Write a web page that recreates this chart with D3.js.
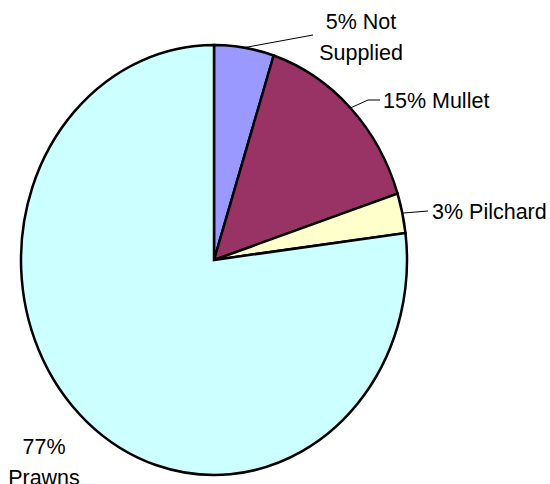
<!DOCTYPE html>
<html>
<head>
<meta charset="utf-8">
<script src="https://cdn.jsdelivr.net/npm/d3@7"></script>
<style>
  html, body { margin: 0; padding: 0; background: #fff; }
  svg text { font-family: "Liberation Sans", Arial, sans-serif; font-size: 21.5px; fill: #000; }
</style>
</head>
<body>
<svg id="chart"></svg>
<script>
// data
const categories = ['Not Supplied', 'Mullet', 'Pilchard', 'Prawns'];
const shares = [5, 15, 3, 77];
const labelLines = [['5% Not', 'Supplied'], ['15% Mullet'], ['3% Pilchard'], ['77%', 'Prawns']];
const colors = ['#9999ff', '#993366', '#ffffcc', '#ccffff'];

const width = 550, height = 484;
const cx = 214, cy = 260, rx = 193, ry = 215;

// where each label sits, and the elbow of its leader line (null = no leader)
const labelLayout = {
  'Not Supplied': { x: 361, y: 29, anchor: 'middle', elbow: [[313, 35]] },
  'Mullet':       { x: 383, y: 108, anchor: 'start', elbow: [[368, 100], [380, 100]] },
  'Pilchard':     { x: 432, y: 219, anchor: 'start', elbow: [[428, 211]] },
  'Prawns':       { x: 44, y: 454, anchor: 'middle', elbow: null }
};

const svg = d3.select('#chart')
  .attr('width', width)
  .attr('height', height);

const pie = d3.pie().sort(null).value(d => d.value);
const arcs = pie(categories.map((c, i) => ({ name: c, value: shares[i], i })));

const arc = d3.arc().innerRadius(0).outerRadius(rx);

// pie is drawn as an ellipse: scale the y axis
const g = svg.append('g')
  .attr('transform', `translate(${cx},${cy}) scale(1,${ry / rx})`);

g.selectAll('path.slice')
  .data(arcs)
  .join('path')
    .attr('class', 'slice')
    .attr('d', arc)
    .attr('fill', d => colors[d.data.i])
    .attr('stroke', '#000')
    .attr('stroke-width', 2.5)
    .attr('stroke-linejoin', 'miter')
    .attr('vector-effect', 'non-scaling-stroke');

// point on the ellipse edge at the slice's mid angle
function edgePoint(d) {
  const a = (d.startAngle + d.endAngle) / 2;
  return [cx + rx * Math.sin(a), cy - ry * Math.cos(a)];
}

const line = d3.line();

svg.append('g').selectAll('path.leader')
  .data(arcs.filter(d => labelLayout[d.data.name].elbow))
  .join('path')
    .attr('class', 'leader')
    .attr('d', d => line([edgePoint(d), ...labelLayout[d.data.name].elbow]))
    .attr('fill', 'none')
    .attr('stroke', '#000')
    .attr('stroke-width', 1);

const labels = svg.append('g').selectAll('text')
  .data(arcs)
  .join('text')
    .attr('x', d => labelLayout[d.data.name].x)
    .attr('y', d => labelLayout[d.data.name].y)
    .attr('text-anchor', d => labelLayout[d.data.name].anchor);

labels.selectAll('tspan')
  .data(d => labelLines[d.data.i].map(t => ({ t, x: labelLayout[d.data.name].x })))
  .join('tspan')
    .attr('x', d => d.x)
    .attr('dy', (d, i) => i === 0 ? 0 : 30.5)
    .text(d => d.t);
</script>
</body>
</html>
